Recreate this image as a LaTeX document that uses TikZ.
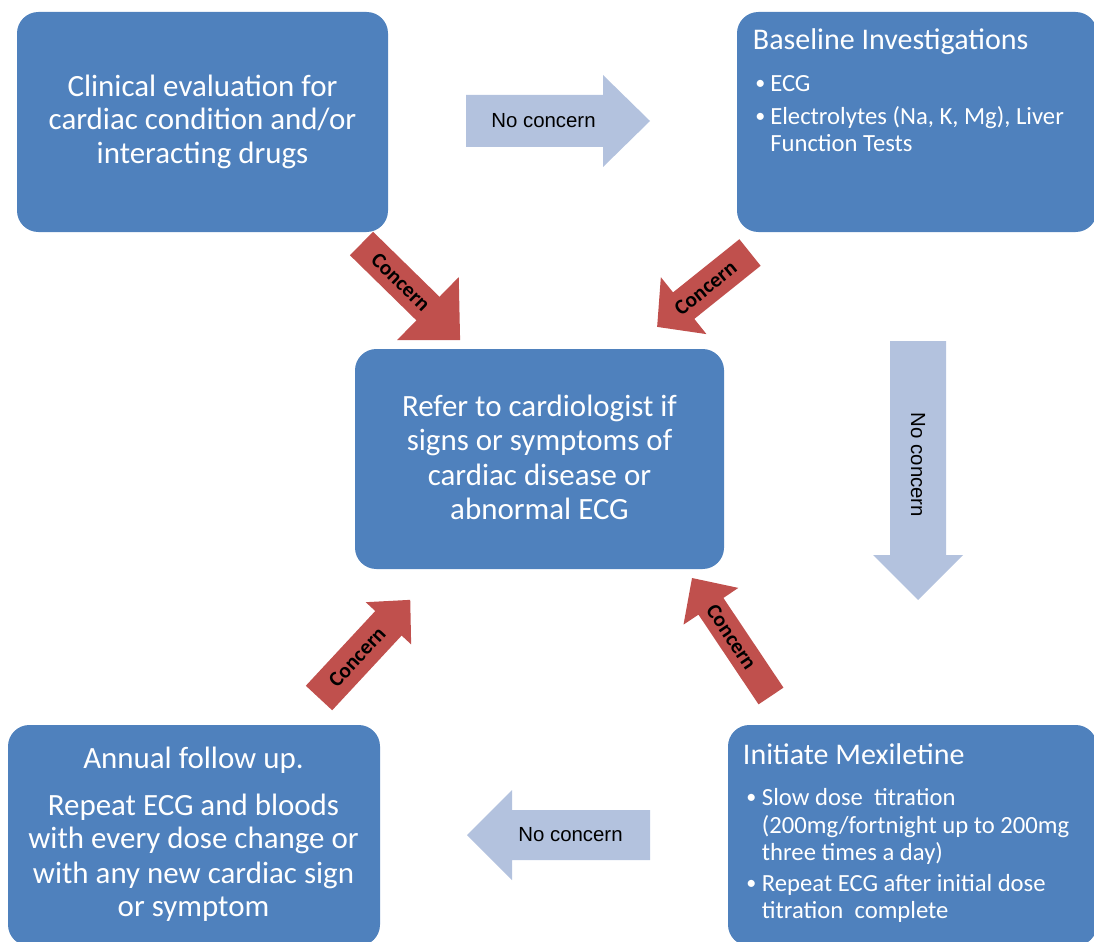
\documentclass[tikz,border=0pt]{standalone}
\usepackage{fontspec}
\setmainfont{Carlito}
\newfontfamily\arialfont{Liberation Sans}
\definecolor{boxblue}{HTML}{4F81BD}
\definecolor{concernred}{HTML}{C0504D}
\definecolor{paleblue}{HTML}{B3C2DE}
\tikzset{
  box/.style={fill=boxblue, rounded corners=16pt, inner sep=0pt, draw=none},
  boxtext/.style={text=white, font=\fontsize{23.2}{25}\selectfont, anchor=base, inner sep=0pt},
  headtext/.style={text=white, font=\fontsize{22.5}{25}\selectfont, anchor=base west, inner sep=0pt},
  bullettext/.style={text=white, font=\fontsize{18.5}{20}\selectfont, anchor=base west, inner sep=0pt},
  bulletdot/.style={text=white, font=\fontsize{15}{16}\selectfont, anchor=base west, inner sep=0pt, yshift=1.5pt},
  nclabel/.style={font=\arialfont\fontsize{15.3}{18}\selectfont, inner sep=0pt},
  clabel/.style={font=\bfseries\fontsize{16}{18}\selectfont, inner sep=0pt},
}
\begin{document}
\begin{tikzpicture}[x=0.75pt,y=-0.75pt]
\path[use as bounding box] (0,0) rectangle (1094,941);
\clip (0,0) rectangle (1094,941);

% boxes
\node[box, minimum width=278.25pt, minimum height=165pt] (clinical) at (202.5,122) {};
\node[box, minimum width=270pt, minimum height=165pt] (baseline) at (917,122) {};
\node[box, minimum width=276.75pt, minimum height=165pt] (refer) at (539.5,459) {};
\node[box, minimum width=279pt, minimum height=165.75pt] (annual) at (194,835.5) {};
\node[box, minimum width=276.75pt, minimum height=165.75pt] (mexil) at (912.5,835.5) {};

% box 1 text
\node[boxtext] (t11) at (202.5,96.7) {Clinical evaluation for};
\node[boxtext] (t12) at (202.5,130) {cardiac condition and/or};
\node[boxtext] (t13) at (202.5,163.3) {interacting drugs};

% centre box text
\node[boxtext] (t31) at (539.5,416.5) {Refer to cardiologist if};
\node[boxtext] (t32) at (539.5,450.5) {signs or symptoms of};
\node[boxtext] (t33) at (539.5,485) {cardiac disease or};
\node[boxtext] (t34) at (539.5,519) {abnormal ECG};

% baseline box text
\node[headtext] (t21) at (752.7,50) {Baseline Investigations};
\node[bulletdot] (b21) at (755,91.7) {•};
\node[bullettext] (t22) at (770,91.7) {ECG};
\node[bulletdot] (b22) at (755,125) {•};
\node[bullettext] (t23) at (770,125) {Electrolytes (Na, K, Mg), Liver};
\node[bullettext] (t24) at (770,151.7) {Function Tests};

% mexiletine box text
\node[headtext] (t51) at (742.7,764.3) {Initiate Mexiletine};
\node[bulletdot] (b51) at (746,805) {•};
\node[bullettext] (t52) at (761.7,805) {Slow dose\ \ titration};
\node[bullettext] (t53) at (761.7,833.3) {(200mg/fortnight up to 200mg};
\node[bullettext] (t54) at (761.7,860) {three times a day)};
\node[bulletdot] (b52) at (746,891.7) {•};
\node[bullettext] (t55) at (761.7,891.7) {Repeat ECG after initial dose};
\node[bullettext] (t56) at (761.7,918.3) {titration\ \ complete};

% annual box text
\node[boxtext] (t41) at (193.5,768.3) {Annual follow up.};
\node[boxtext] (t42) at (193.5,815) {Repeat ECG and bloods};
\node[boxtext] (t43) at (193.5,848.3) {with every dose change or};
\node[boxtext] (t44) at (193.5,883.3) {with any new cardiac sign};
\node[boxtext] (t45) at (193.5,916.7) {or symptom};

% no concern arrows
\begin{scope}[shift={(466,121)}, rotate=0]
  \fill[paleblue] (0,-26) -- (137,-26) -- (137,-46) -- (184,0) -- (137,46) -- (137,26) -- (0,26) -- cycle;
  \node[nclabel] (nc1) at (77.5,0) {No concern};
\end{scope}
\begin{scope}[shift={(918,341)}, rotate=-90]
  \fill[paleblue] (0,-28) -- (214,-28) -- (214,-45) -- (259,0) -- (214,45) -- (214,28) -- (0,28) -- cycle;
  \node[nclabel, rotate=-90] (nc2) at (124,0) {No concern};
\end{scope}
\begin{scope}[shift={(650,835)}, rotate=180]
  \fill[paleblue] (0,-25) -- (138,-25) -- (138,-45) -- (183,0) -- (138,45) -- (138,25) -- (0,25) -- cycle;
  \node[nclabel] (nc3) at (79.5,0) {No concern};
\end{scope}

% concern arrows
\begin{scope}[shift={(361.5,243.5)}, rotate=-44.4]
  \fill[concernred] (0,-16.5) -- (93,-16.5) -- (93,-44) -- (138,0) -- (93,44) -- (93,16.5) -- (0,16.5) -- cycle;
  \node[clabel, rotate=-44.4] (c1) at (55,0) {Concern};
\end{scope}
\begin{scope}[shift={(750,252.5)}, rotate=218.7]
  \fill[concernred] (0,-17) -- (85,-17) -- (85,-36.5) -- (119,0) -- (85,36.5) -- (85,17) -- (0,17) -- cycle;
  \node[clabel, rotate=38.7] (c2) at (57,0) {Concern};
\end{scope}
\begin{scope}[shift={(319,698)}, rotate=47.1]
  \fill[concernred] (0,-18) -- (102,-18) -- (102,-31) -- (134,0) -- (102,31) -- (102,18) -- (0,18) -- cycle;
  \node[clabel, rotate=47.1] (c3) at (56,0) {Concern};
\end{scope}
\begin{scope}[shift={(771,696)}, rotate=123.8]
  \fill[concernred] (0,-15) -- (108,-15) -- (108,-33) -- (142,0) -- (108,33) -- (108,15) -- (0,15) -- cycle;
  \node[clabel, rotate=-56.2] (c4) at (71,0) {Concern};
\end{scope}
\end{tikzpicture}
\end{document}
